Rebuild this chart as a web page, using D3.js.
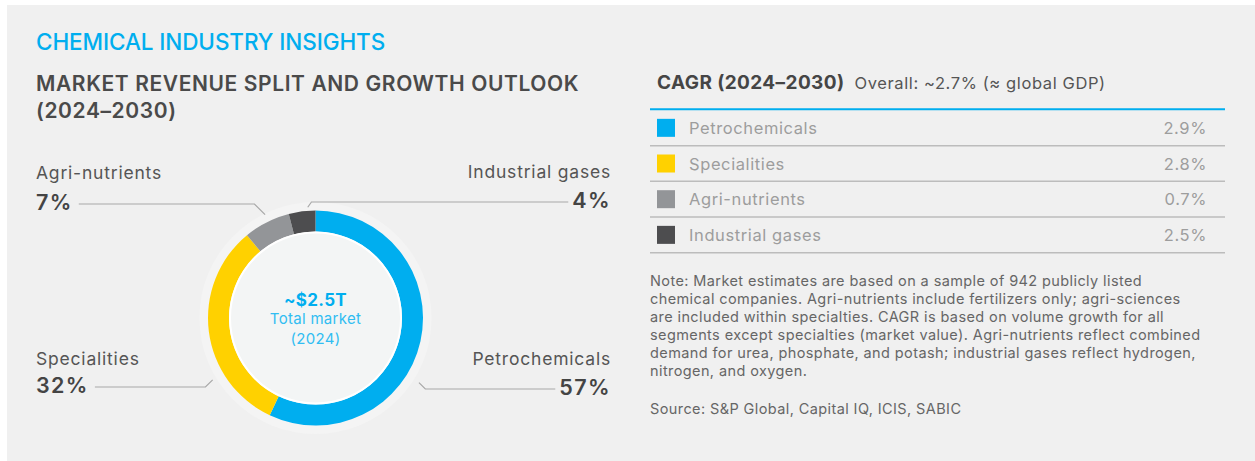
<!DOCTYPE html>
<html>
<head>
<meta charset="utf-8">
<script src="https://cdn.jsdelivr.net/npm/d3@7/dist/d3.min.js"></script>
<style>
  html, body { margin: 0; padding: 0; background: #ffffff; }
  svg { display: block; font-family: Inter, "Noto Sans", sans-serif; }
</style>
</head>
<body>
<svg id="chart" width="1255" height="461"></svg>
<script>
// ---- data ----
const segments = ["Petrochemicals", "Specialities", "Agri-nutrients", "Industrial gases"];
const sharePct = [57, 32, 7, 4];
const cagrPct = [2.9, 2.8, 0.7, 2.5];
const segmentColors = ["#00aeef", "#ffd100", "#939598", "#4d4d4f"];
const centerLines = ["~$2.5T", "Total market", "(2024)"];
const noteLines = [
  "Note: Market estimates are based on a sample of 942 publicly listed",
  "chemical companies. Agri-nutrients include fertilizers only; agri-sciences",
  "are included within specialties. CAGR is based on volume growth for all",
  "segments except specialties (market value). Agri-nutrients reflect combined",
  "demand for urea, phosphate, and potash; industrial gases reflect hydrogen,",
  "nitrogen, and oxygen."
];
const sourceLine = "Source: S&P Global, Capital IQ, ICIS, SABIC";

// ---- layout ----
const W = 1255, H = 461;
const svg = d3.select("#chart");

svg.append("rect").attr("x", 7).attr("y", 5).attr("width", W - 7).attr("height", H - 5)
  .attr("fill", "#f0f0f0");

svg.append("text").attr("x", 36).attr("y", 50)
  .attr("font-size", 22.5).attr("font-weight", 500).attr("fill", "#00aeef")
  .attr("letter-spacing", -0.1)
  .text("CHEMICAL INDUSTRY INSIGHTS");

const subStyle = sel => sel.attr("font-size", 21).attr("font-weight", 600)
  .attr("fill", "#4a4a4a").attr("letter-spacing", 0.6);
svg.append("text").attr("x", 36).attr("y", 91).call(subStyle)
  .text("MARKET REVENUE SPLIT AND GROWTH OUTLOOK");
svg.append("text").attr("x", 36).attr("y", 118).call(subStyle)
  .text("(2024–2030)");

// ---- donut ----
const cx = 315.5, cy = 318;
const rOuter = 107.5, rInner = 86.5;
const donut = svg.append("g").attr("transform", `translate(${cx},${cy})`);

donut.append("circle").attr("r", 116).attr("fill", "#f4f4f4");

const pie = d3.pie().sort(null).value(d => d.value);
const arcs = pie(segments.map((s, i) => ({ name: s, value: sharePct[i], color: segmentColors[i] })));
const arc = d3.arc().innerRadius(rInner).outerRadius(rOuter);

donut.selectAll("path.seg").data(arcs).join("path")
  .attr("class", "seg")
  .attr("d", arc)
  .attr("fill", d => d.data.color);

donut.append("circle").attr("r", rInner - 1).attr("fill", "#f3f5f5")
  .attr("stroke", "#ffffff").attr("stroke-width", 2);

const centerStyle = [
  { y: -12, size: 17, weight: 700, fill: "#00aeef" },
  { y: 6, size: 15, weight: 400, fill: "#30bdf2" },
  { y: 26, size: 15, weight: 400, fill: "#30bdf2" }
];
centerLines.forEach((t, i) => {
  donut.append("text").attr("x", 0).attr("y", centerStyle[i].y)
    .attr("text-anchor", "middle")
    .attr("font-size", centerStyle[i].size).attr("font-weight", centerStyle[i].weight)
    .attr("letter-spacing", 0.3)
    .attr("fill", centerStyle[i].fill).text(t);
});

// ---- callout labels ----
const callouts = {
  "Agri-nutrients":   { side: "left",  x: 36,  nameY: 179, pctY: 210, angle: 334, r: 115 },
  "Industrial gases": { side: "right", x: 611, nameY: 178, pctY: 208, angle: 356, r: 111 },
  "Specialities":     { side: "left",  x: 36,  nameY: 365, pctY: 393, angle: 239, r: 120 },
  "Petrochemicals":   { side: "right", x: 611, nameY: 365, pctY: 395, angle: 122, r: 122 }
};

const rad = Math.PI / 180;
segments.forEach((name, i) => {
  const c = callouts[name];
  const anchor = c.side === "left" ? "start" : "end";
  svg.append("text").attr("x", c.x).attr("y", c.nameY)
    .attr("text-anchor", anchor).attr("font-size", 17.5).attr("fill", "#555555")
    .attr("letter-spacing", 0.8)
    .text(name);
  const pct = svg.append("text").attr("x", c.x).attr("y", c.pctY)
    .attr("text-anchor", anchor).attr("font-size", 21.5).attr("font-weight", 600)
    .attr("letter-spacing", 1.4)
    .attr("fill", "#444444").text(sharePct[i] + "%");
  const bb = pct.node().getBBox();

  // leader: point near ring -> short elbow -> horizontal to the percentage
  const ex = cx + c.r * Math.sin(c.angle * rad);
  const ey = cy - c.r * Math.cos(c.angle * rad);
  const lineY = c.pctY - 6;
  const dy = Math.abs(ey - lineY);
  let elbowX;
  if (name === "Industrial gases") elbowX = ex + dy * 0.7;
  else elbowX = c.side === "left" ? ex - dy : ex + dy;
  const textEdge = c.side === "left" ? bb.x + bb.width + 6 : bb.x - 4;
  const path = d3.path();
  path.moveTo(ex, ey);
  path.lineTo(elbowX, lineY);
  path.lineTo(textEdge, lineY);
  svg.append("path").attr("d", path.toString())
    .attr("fill", "none").attr("stroke", "#a8a8a8").attr("stroke-width", 1.2);
});

// ---- CAGR table ----
const tx0 = 650, tx1 = 1225;
svg.append("text").attr("x", 657).attr("y", 89)
  .attr("font-size", 19).attr("font-weight", 700).attr("fill", "#454545")
  .attr("letter-spacing", 0.4)
  .text("CAGR (2024–2030)")
  .append("tspan").attr("dx", 10).attr("font-size", 16.5).attr("font-weight", 400)
  .attr("letter-spacing", 0.6)
  .attr("fill", "#555555").text("Overall: ~2.7% (≈ global GDP)");

const rowScale = d3.scaleBand().domain(segments).range([110, 252.7]);

svg.append("line").attr("x1", tx0).attr("x2", tx1).attr("y1", 109.3).attr("y2", 109.3)
  .attr("stroke", "#00aeef").attr("stroke-width", 2);

const rows = svg.selectAll("g.row").data(segments).join("g")
  .attr("class", "row")
  .attr("transform", d => `translate(0,${rowScale(d)})`);

rows.append("line").attr("x1", tx0).attr("x2", tx1)
  .attr("y1", rowScale.bandwidth()).attr("y2", rowScale.bandwidth())
  .attr("stroke", "#bcbcbc").attr("stroke-width", 1.5);

rows.append("rect").attr("x", 657).attr("y", rowScale.bandwidth() / 2 - 9)
  .attr("width", 18).attr("height", 18)
  .attr("fill", (d, i) => segmentColors[i]);

rows.append("text").attr("x", 689).attr("y", rowScale.bandwidth() / 2 + 6)
  .attr("font-size", 16.5).attr("letter-spacing", 0.6).attr("fill", "#9d9d9d").text(d => d);

rows.append("text").attr("x", 1207).attr("y", rowScale.bandwidth() / 2 + 6)
  .attr("text-anchor", "end").attr("font-size", 16.5).attr("letter-spacing", 0.6)
  .attr("fill", "#9d9d9d")
  .text((d, i) => cagrPct[i].toFixed(1) + "%");

// ---- notes ----
const noteStyle = sel => sel.attr("font-size", 14.5).attr("letter-spacing", 0.4)
  .attr("fill", "#666666");
const notes = svg.append("text").call(noteStyle);
noteLines.forEach((t, i) => {
  notes.append("tspan").attr("x", 650).attr("y", 286 + i * 18).text(t);
});
svg.append("text").attr("x", 650).attr("y", 414).call(noteStyle).text(sourceLine);
</script>
</body>
</html>
